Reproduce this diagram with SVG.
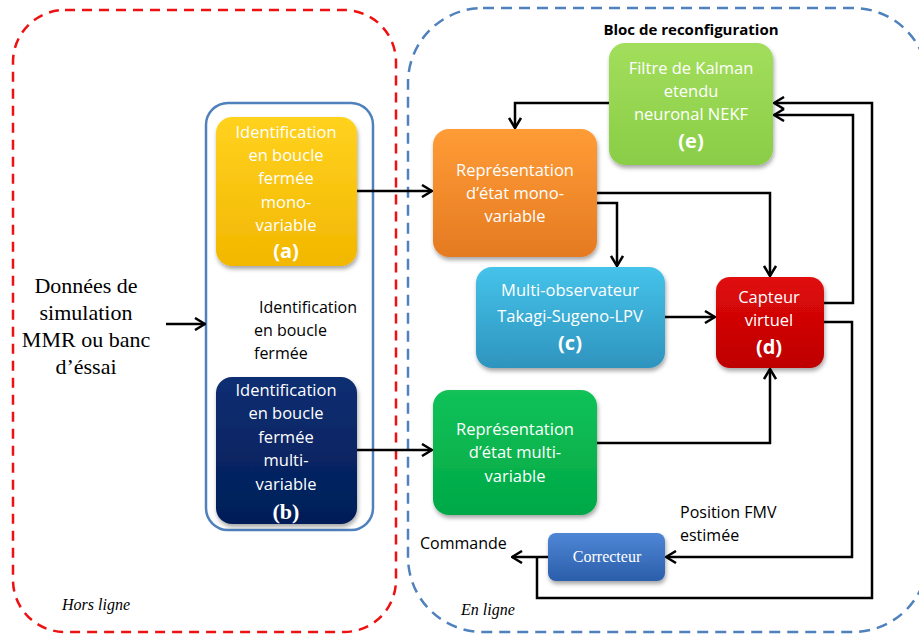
<svg xmlns="http://www.w3.org/2000/svg" width="919" height="635" viewBox="0 0 919 635">
<style>
.t{font-family:"Open Sans","Liberation Sans",sans-serif;font-size:16.5px;fill:#fff;text-anchor:middle}
.tb{font-family:"Open Sans","Liberation Sans",sans-serif;font-size:20px;font-weight:bold;fill:#fff;text-anchor:middle}
.k{font-family:"Open Sans","Liberation Sans",sans-serif;font-size:16px;fill:#000}
.s{font-family:"Liberation Serif","Times New Roman",serif;fill:#000}
.w{fill:#fff}
.c{fill:none;stroke:#000;stroke-width:2.5}
.box{filter:url(#sh)}
</style>
<defs>
<filter id="sh" x="-10%" y="-10%" width="125%" height="130%"><feDropShadow dx="1" dy="3" stdDeviation="2" flood-color="#000" flood-opacity="0.35"/></filter>
<marker id="ar" viewBox="0 0 12 14" refX="11" refY="7" markerWidth="12" markerHeight="14" markerUnits="userSpaceOnUse" orient="auto"><path d="M1,1 L11,7 L1,13" fill="none" stroke="#000" stroke-width="2.5"/></marker>
<linearGradient id="gy" x1="0" y1="0" x2="0" y2="1"><stop offset="0" stop-color="#FFD21F"/><stop offset="1" stop-color="#F2B700"/></linearGradient>
<linearGradient id="gn" x1="0" y1="0" x2="0" y2="1"><stop offset="0" stop-color="#0C2E72"/><stop offset="1" stop-color="#031E58"/></linearGradient>
<linearGradient id="go" x1="0" y1="0" x2="0" y2="1"><stop offset="0" stop-color="#FF9C36"/><stop offset="1" stop-color="#E57A22"/></linearGradient>
<linearGradient id="ge" x1="0" y1="0" x2="0" y2="1"><stop offset="0" stop-color="#A2DE5C"/><stop offset="1" stop-color="#8ACD46"/></linearGradient>
<linearGradient id="gc" x1="0" y1="0" x2="0" y2="1"><stop offset="0" stop-color="#45C3EA"/><stop offset="1" stop-color="#2E94BE"/></linearGradient>
<linearGradient id="gr" x1="0" y1="0" x2="0" y2="1"><stop offset="0" stop-color="#E00A0A"/><stop offset="1" stop-color="#BE0000"/></linearGradient>
<linearGradient id="gg" x1="0" y1="0" x2="0" y2="1"><stop offset="0" stop-color="#12C258"/><stop offset="1" stop-color="#00A846"/></linearGradient>
<linearGradient id="gb" x1="0" y1="0" x2="0" y2="1"><stop offset="0" stop-color="#4F86D6"/><stop offset="1" stop-color="#2B5EAA"/></linearGradient>
</defs>
<rect width="919" height="635" fill="#fff"/>

<g id="hors-ligne">
<rect x="13" y="10" width="383" height="622" rx="52" fill="none" stroke="#EE1111" stroke-width="2.5" stroke-dasharray="10,7"/>
<text class="s" x="62" y="610" font-size="16" font-style="italic">Hors ligne</text>
</g>
<g id="en-ligne">
<rect x="408" y="8" width="520" height="624" rx="75" fill="none" stroke="#4F81BD" stroke-width="2.5" stroke-dasharray="11,7"/>
<text class="s" x="461" y="615" font-size="16" font-style="italic">En ligne</text>
<text x="691" y="35" font-family="Open Sans, Liberation Sans, sans-serif" font-size="15" font-weight="bold" text-anchor="middle">Bloc de reconfiguration</text>
</g>

<g id="donnees">
<text class="s" font-size="22" text-anchor="middle"><tspan x="86" y="293">Données de</tspan><tspan x="86" y="320">simulation</tspan><tspan x="86" y="347">MMR ou banc</tspan><tspan x="86" y="374">d’éssai</tspan></text>
</g>

<g id="identification">
<rect x="206" y="103" width="167" height="427" rx="22" fill="none" stroke="#4F81BD" stroke-width="2.5"/>
<text class="k"><tspan x="259" y="313">Identification</tspan><tspan x="254" y="336">en boucle</tspan><tspan x="254" y="359">fermée</tspan></text>
</g>

<g id="a">
<rect class="box" x="216" y="117" width="141" height="149" rx="16" fill="url(#gy)"/>
<text class="t"><tspan x="286" y="138">Identification</tspan><tspan x="286" y="161">en boucle</tspan><tspan x="286" y="184">fermée</tspan><tspan x="286" y="208">mono-</tspan><tspan x="286" y="231">variable</tspan></text>
<text class="tb" x="286" y="258">(a)</text>
</g>

<g id="b">
<rect class="box" x="216" y="377" width="141" height="147" rx="16" fill="url(#gn)"/>
<text class="t"><tspan x="286" y="396">Identification</tspan><tspan x="286" y="419">en boucle</tspan><tspan x="286" y="443">fermée</tspan><tspan x="286" y="466">multi-</tspan><tspan x="286" y="490">variable</tspan></text>
<text class="s w" x="286" y="519" font-size="22" font-weight="bold" text-anchor="middle">(b)</text>
</g>

<g id="etat-mono">
<rect class="box" x="433" y="129" width="164" height="128" rx="16" fill="url(#go)"/>
<text class="t"><tspan x="515" y="176">Représentation</tspan><tspan x="515" y="199">d’état mono-</tspan><tspan x="515" y="222">variable</tspan></text>
</g>

<g id="e">
<rect class="box" x="609" y="43" width="164" height="122" rx="16" fill="url(#ge)"/>
<text class="t"><tspan x="691" y="74">Filtre de Kalman</tspan><tspan x="691" y="97">etendu</tspan><tspan x="691" y="120">neuronal NEKF</tspan></text>
<text class="tb" x="691" y="148">(e)</text>
</g>

<g id="c">
<rect class="box" x="476" y="267" width="189" height="101" rx="16" fill="url(#gc)"/>
<text class="t"><tspan x="570" y="296">Multi-observateur</tspan><tspan x="570" y="322">Takagi-Sugeno-LPV</tspan></text>
<text class="tb" x="570" y="350">(c)</text>
</g>

<g id="d">
<rect class="box" x="716" y="277" width="108" height="91" rx="14" fill="url(#gr)"/>
<text class="t"><tspan x="769" y="303">Capteur</tspan><tspan x="769" y="326">virtuel</tspan></text>
<text class="tb" x="769" y="354">(d)</text>
</g>

<g id="etat-multi">
<rect class="box" x="433" y="390" width="164" height="125" rx="16" fill="url(#gg)"/>
<text class="t"><tspan x="515" y="435">Représentation</tspan><tspan x="515" y="458">d’état multi-</tspan><tspan x="515" y="482">variable</tspan></text>
</g>

<g id="correcteur">
<rect class="box" x="548" y="533" width="117" height="48" rx="8" fill="url(#gb)"/>
<text class="s w" x="607" y="562" font-size="16" text-anchor="middle">Correcteur</text>
</g>

<g id="labels">
<text class="k"><tspan x="680" y="518">Position FMV</tspan><tspan x="680" y="541">estimée</tspan></text>
<text class="k" x="420" y="549">Commande</text>
</g>

<g id="connectors">
<path class="c" d="M166,324 H205" marker-end="url(#ar)"/>
<path class="c" d="M357,191 H432" marker-end="url(#ar)"/>
<path class="c" d="M357,450 H432" marker-end="url(#ar)"/>
<path class="c" d="M609,103 H515 V128" marker-end="url(#ar)"/>
<path class="c" d="M597,203 H617 V266" marker-end="url(#ar)"/>
<path class="c" d="M597,193 H770 V276" marker-end="url(#ar)"/>
<path class="c" d="M665,317 H715" marker-end="url(#ar)"/>
<path class="c" d="M597,443 H770 V369" marker-end="url(#ar)"/>
<path class="c" d="M824,303 H853 V115 H774" marker-end="url(#ar)"/>
<path class="c" d="M824,322 H852 V557 H666" marker-end="url(#ar)"/>
<path class="c" d="M548,557 H512" marker-end="url(#ar)"/>
<path class="c" d="M537,557 V598 H872 V103 H774" marker-end="url(#ar)"/>
</g>
</svg>
